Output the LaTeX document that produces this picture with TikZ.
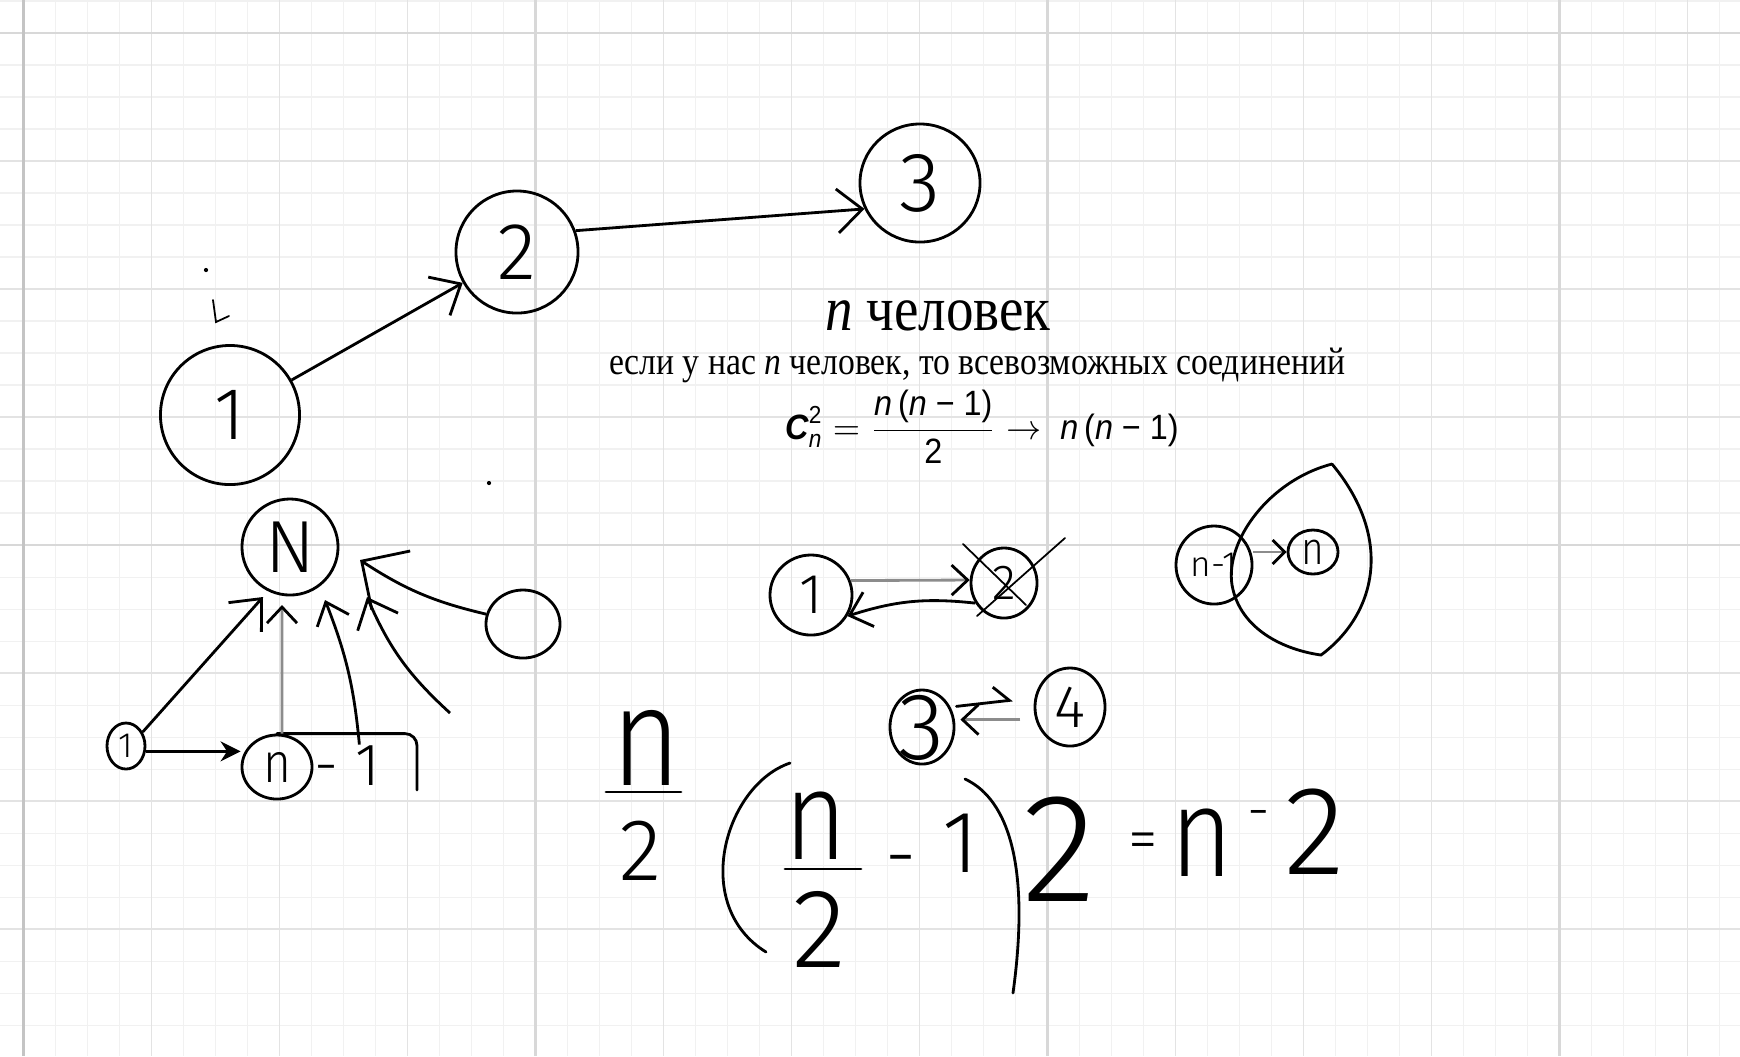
\documentclass[tikz,border=0pt]{standalone}
\usepackage{fontspec}
\setmainfont{Liberation Serif}
\newfontfamily\printfont[FakeStretch=0.87]{Liberation Serif}
\newfontfamily\formulafont[FakeStretch=0.92]{Liberation Sans}
\IfFontExistsTF{Fira Sans Light}{%
  \newfontfamily\handfont{Fira Sans Light}%
  \newfontfamily\handnarrow[FakeStretch=0.85]{Fira Sans Light}}{%
  \newfontfamily\handfont{Latin Modern Sans}%
  \newfontfamily\handnarrow[FakeStretch=0.85]{Latin Modern Sans}}
\usetikzlibrary{shapes.geometric, arrows.meta, positioning}

\definecolor{gridminor}{HTML}{F1F1F1}
\definecolor{gridmid}{HTML}{E3E3E3}
\definecolor{gridmajor}{HTML}{D8D8D8}
\definecolor{gridedge}{HTML}{C4C4C4}
\definecolor{pale}{HTML}{8C8C8C}

\newcommand{\handsize}[1]{\handfont\fontsize{#1}{#1}\selectfont}
\newcommand{\narrowsize}[1]{\handnarrow\fontsize{#1}{#1}\selectfont}
\newcommand{\inside}[1]{\smash{\makebox[0pt]{\raisebox{-0.5\height}{#1}}}}
\newcommand{\fs}[1]{\mbox{\fontsize{7}{7}\selectfont #1}}
\newcommand{\nnone}{\mbox{\itshape n\upshape\,(\itshape n\upshape\ − 1)}}

\tikzstyle{vertex} = [circle, draw, line width=0.8pt, inner sep=0pt]
\tikzstyle{oval} = [ellipse, draw, line width=0.8pt, inner sep=0pt]
\tikzstyle{hand} = [inner sep=0pt]
\tikzstyle{pen} = [line width=0.8pt, line cap=round]
\tikzstyle{arrow} = [line width=0.8pt, -{Straight Barb[length=2.5mm,width=4.4mm]}]
\tikzstyle{grayarrow} = [line width=0.8pt, draw=pale, -{Straight Barb[length=1.6mm,width=3mm,color=black]}]

\begin{document}
\begin{tikzpicture}[x=0.01cm, y=-0.01cm]
\useasboundingbox (0,0) rectangle (1740,1056);
\fill[white] (0,0) rectangle (1740,1056);
% grid paper
\foreach \i in {0,...,53} \draw[gridminor, line width=0.3pt] ({23.5+32*\i},0) -- ({23.5+32*\i},1056);
\foreach \j in {0,...,32} \draw[gridminor, line width=0.3pt] (0,{1+32*\j}) -- (1740,{1+32*\j});
\foreach \i in {0,...,13} \draw[gridmid, line width=0.5pt] ({23.5+128*\i},0) -- ({23.5+128*\i},1056);
\foreach \j in {0,...,7} \draw[gridmid, line width=0.5pt] (0,{33+128*\j}) -- (1740,{33+128*\j});
\foreach \i in {0,...,3} \draw[gridmajor, line width=0.7pt] ({23.5+512*\i},0) -- ({23.5+512*\i},1056);
\foreach \j in {0,1} \draw[gridmajor, line width=0.7pt] (0,{33+512*\j}) -- (1740,{33+512*\j});
\draw[gridedge, line width=1.1pt] (23.5,0) -- (23.5,1056);

% chain 1 -> 2 -> 3
\node (c1) [vertex, minimum size=1.39cm, font=\handsize{21}] at (230,415) {\inside{1}};
\node (c2) [vertex, minimum size=1.22cm, font=\handsize{23}] at (517,252) {\inside{2}};
\node (c3) [oval, minimum width=1.20cm, minimum height=1.18cm, font=\handsize{24}] at (920,183) {\inside{3}};
\draw [arrow] (c1) -- (c2);
\draw [arrow] (c2.20) -- (c3.205);
\fill (206,270) circle [radius=0.6pt];
\draw [pen, line width=0.5pt] (213,300) -- (216,322) -- (229,316);
\fill (489,483) circle [radius=0.6pt];

% printed text
\node (title) [anchor=base, font=\printfont\fontsize{18}{21}\selectfont] at (938,330) {\textit{n} человек};
\node (line) [anchor=base, font=\printfont\fontsize{11}{13}\selectfont] at (977,374) {если у нас \textit{n} человек, то всевозможных соединений};
\node (formula) [anchor=base, font=\formulafont\fontsize{10}{12}\selectfont] at (982,439) {$\displaystyle \mbox{\bfseries\itshape C}^{\fs{2}}_{\fs{\itshape n}} = \frac{\nnone}{\mbox{2}} \to\ \nnone$};

% everyone points at N
\node (cN) [vertex, minimum size=0.96cm, font=\handsize{21}] at (290,547) {\inside{N}};
\node (cE) [oval, minimum width=0.74cm, minimum height=0.68cm] at (523,624) {};
\node (s1) [oval, minimum width=0.38cm, minimum height=0.46cm, font=\handsize{10}] at (126,746) {\inside{1}};
\node (cn) [oval, minimum width=0.70cm, minimum height=0.64cm, font=\narrowsize{16}] at (277,767) {\inside{n}};
\node (cnrest) [hand, anchor=base west, font=\handsize{17}] at (314,785) {- 1};
\coordinate (dfree) at (450,713);
\draw [pen, rounded corners=0.12cm] (cn.north) -| (417,790);
\draw [arrow] (s1.40) -- ([shift={(-27,50)}]cN.center);
\draw [grayarrow] ([xshift=0.05cm]cn.north) -- ([shift={(-8,58)}]cN.center);
\draw [arrow, -{Straight Barb[length=2mm,width=3.4mm]}] ([xshift=0.12cm]cnrest.north) to[bend right=8] ([shift={(35,53)}]cN.center);
\draw [arrow] (dfree) to[bend left=12] ([shift={(77,50)}]cN.center);
\draw [arrow, -{Straight Barb[length=3.5mm,width=7mm]}] (cE.165) to[bend left=10] ([shift={(70,13)}]cN.center);
\draw [arrow, -{Stealth[length=2mm,width=2mm]}] (s1.345) -- (s1.345 -| cn.west);

% pair 1 <-> 2
\node (m1) [oval, minimum width=0.82cm, minimum height=0.80cm, font=\handsize{16}] at (811,595) {\inside{1}};
\node (m2) [oval, minimum width=0.66cm, minimum height=0.70cm, font=\handsize{14}] at (1004,583) {\inside{2}};
\draw [grayarrow] (m1.20) -- (m2.175);
\draw [arrow, -{Straight Barb[length=2mm,width=3.6mm]}] (m2.215) to[bend right=12] (m1.330);
\draw [pen, line width=0.5pt] ([shift={(-41,-39)}]m2.center) -- ([shift={(22,22)}]m2.center);
\draw [pen, line width=0.5pt] ([shift={(-27,33)}]m2.center) -- ([shift={(61,-45)}]m2.center);

% n-1 and n in the blob
\node (hn1) [oval, minimum width=0.76cm, minimum height=0.78cm, font=\handsize{10}] at (1214,565) {\inside{n-1}};
\node (sn) [oval, minimum width=0.50cm, minimum height=0.44cm, font=\narrowsize{13}] at (1313,552) {\inside{n}};
\draw [grayarrow, -{Straight Barb[length=1.2mm,width=2.4mm,color=black]}] (sn.west -| hn1.east) -- (sn.west);
\draw [pen] (1332,464) .. controls (1270,480) and (1225,540) .. (1232,585) .. controls (1240,630) and (1285,650) .. (1321,655) .. controls (1375,615) and (1395,540) .. (1332,464);

% pair 3 <-> 4
\node (m3) [oval, minimum width=0.64cm, minimum height=0.74cm, font=\handsize{27}] at (922,727) {\inside{3}};
\node (m4) [oval, minimum width=0.70cm, minimum height=0.78cm, font=\handsize{17}] at (1070,707) {\inside{4}};
\draw [pen, -{Straight Barb[harpoon, length=1.5mm, width=3mm]}, shorten <=0.06cm, shorten >=0.22cm] (m3.35) -- (m4.165);
\draw [grayarrow, shorten <=0.15cm, shorten >=0.05cm] (m4.200) -- (m4.200 -| m3.east);

% n/2 (n/2 - 1) 2 = n - 2
\node (fn1) [hand, font=\narrowsize{40}] at (646,748) {n};
\node (fd1) [hand, font=\handsize{25}] at (641,851) {2};
\node (fn2) [hand, font=\narrowsize{36}] at (816,826) {n};
\node (fd2) [hand, font=\handsize{32}] at (819,929) {2};
\node (fminus) [hand, font=\handsize{22}] at (901,868) {-};
\node (fone) [hand, font=\handsize{25}] at (961,843) {1};
\node (ftwo) [hand, font=\handsize{44}] at (1060,849) {2};
\node (feq) [hand, font=\handsize{17}] at (1143,846) {=};
\node (fn3) [hand, font=\narrowsize{36}] at (1202,843) {n};
\node (fsub) [hand, font=\handsize{16}] at (1259,820) {-};
\node (ftwo2) [hand, font=\handsize{36}] at (1315,832) {2};
\draw [pen] (606,792) -- (681,792);
\draw [pen] (785,869) -- (861,869);
\draw [pen] (790,763) .. controls (725,785) and (690,905) .. (766,952);
\draw [pen] (965,779) .. controls (1010,800) and (1030,870) .. (1013,993);
\end{tikzpicture}
\end{document}
